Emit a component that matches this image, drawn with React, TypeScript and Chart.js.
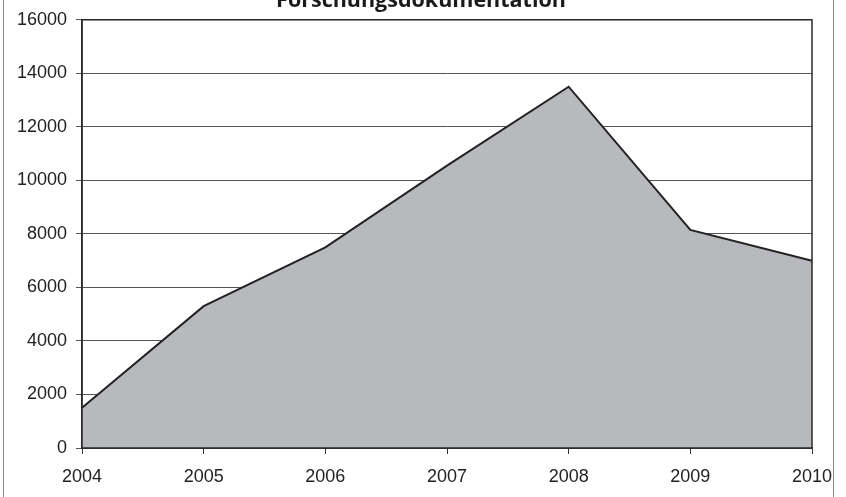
import React, { useEffect, useRef } from "react";
import { Chart, registerables } from "chart.js";

Chart.register(...registerables);

const titleText = "Forschungsdokumentation";
const years = ["2004", "2005", "2006", "2007", "2008", "2009", "2010"];
const values = [1500, 5300, 7500, 10550, 13500, 8150, 7000];
const yMin = 0;
const yMax = 16000;
const yStep = 2000;

const tickFont = { family: "Liberation Sans", size: 18 };

const framePlugin = {
  id: "framePlugin",
  beforeDraw(chart: any) {
    const ctx = chart.ctx;
    ctx.save();
    ctx.fillStyle = "#ffffff";
    ctx.fillRect(0, 0, chart.width, chart.height);
    ctx.strokeStyle = "#8a8a8a";
    ctx.lineWidth = 1;
    ctx.beginPath();
    ctx.moveTo(3.5, 0);
    ctx.lineTo(3.5, chart.height);
    ctx.moveTo(833.5, 0);
    ctx.lineTo(833.5, chart.height);
    ctx.stroke();
    ctx.restore();
  },
  afterDatasetsDraw(chart: any) {
    const ctx = chart.ctx;
    const a = chart.chartArea;
    ctx.save();
    ctx.strokeStyle = "#2a2a2a";
    ctx.lineWidth = 1.5;
    ctx.strokeRect(a.left, a.top, a.right - a.left, a.bottom - a.top);
    ctx.restore();
  },
  afterDraw(chart: any) {
    const ctx = chart.ctx;
    ctx.save();
    ctx.fillStyle = "#1a1a1a";
    ctx.font = "bold 21.5px 'Open Sans'";
    ctx.textAlign = "center";
    ctx.textBaseline = "alphabetic";
    ctx.fillText(titleText, 421, 7);
    ctx.restore();
  },
};

export default function App() {
  const ref = useRef<HTMLCanvasElement | null>(null);
  useEffect(() => {
    if (!ref.current) return;
    const chart = new Chart(ref.current, {
      type: "line",
      data: {
        labels: years,
        datasets: [
          {
            data: values,
            borderColor: "#222222",
            borderWidth: 2,
            backgroundColor: "#b8b9bd",
            fill: "origin",
            pointRadius: 0,
            tension: 0,
          },
        ],
      },
      options: {
        animation: false,
        responsive: false,
        devicePixelRatio: 1,
        layout: { padding: { left: 0, top: 18, right: 34, bottom: 0 } },
        plugins: {
          legend: { display: false },
          tooltip: { enabled: false },
          title: { display: false },
        },
        scales: {
          x: {
            type: "category",
            offset: false,
            grid: {
              drawOnChartArea: false,
              drawTicks: true,
              tickLength: 6,
              color: "#333333",
            },
            border: { display: true, color: "#2a2a2a", width: 1.5 },
            ticks: {
              color: "#222222",
              font: tickFont,
              padding: 12,
              maxRotation: 0,
              autoSkip: false,
            },
            afterFit: (s: any) => {
              s.height = 49;
            },
          },
          y: {
            min: yMin,
            max: yMax,
            ticks: {
              stepSize: yStep,
              color: "#222222",
              font: tickFont,
              padding: 9,
              callback: (v: any) => String(v),
            },
            grid: {
              color: "#555555",
              lineWidth: 1,
              drawTicks: true,
              tickLength: 6,
            },
            border: { display: true, color: "#2a2a2a", width: 1.5 },
            afterFit: (s: any) => {
              s.width = 82;
            },
          },
        },
      },
      plugins: [framePlugin],
    });
    return () => chart.destroy();
  }, []);
  return (
    <div style={{ position: "absolute", left: 0, top: 0, width: 846, height: 497 }}>
      <canvas ref={ref} width={846} height={497} style={{ width: 846, height: 497, display: "block" }} />
    </div>
  );
}
